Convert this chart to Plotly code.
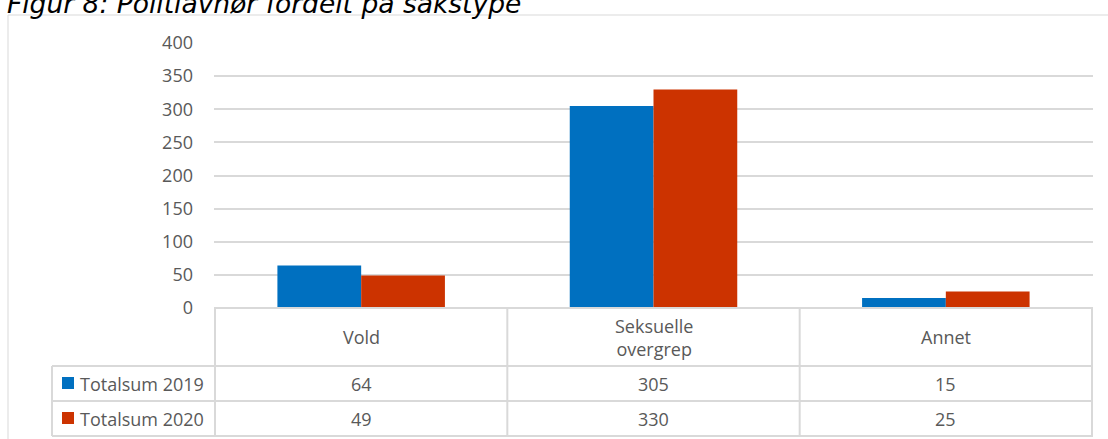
import plotly.graph_objects as go

categories = ["Vold", "Seksuelle overgrep", "Annet"]
header_labels = ["Vold", "Seksuelle<br>overgrep", "Annet"]
series_names = ["Totalsum 2019", "Totalsum 2020"]
values_2019 = [64, 305, 15]
values_2020 = [49, 330, 25]
series_values = [values_2019, values_2020]
colors = ["#0070C0", "#CC3300"]
y_ticks = [0, 50, 100, 150, 200, 250, 300, 350, 400]
title_text = "Figur 8: Politiavhør fordelt på sakstype"

W, H = 1108, 439
L, R, T, B = 214, 15, 43, 131
PW = W - L - R
PH = H - T - B


def px_x(px):
    return (px - L) / PW


def px_y(py):
    return (H - B - py) / PH


FONT = "Open Sans"
TXT = "#595959"
GRID = "#d9d9d9"
FS = 18

fig = go.Figure()
for name, vals, col in zip(series_names, series_values, colors):
    fig.add_trace(go.Bar(x=categories, y=vals, name=name, marker_color=col,
                         marker_line_width=0, showlegend=False))

shapes = []
annotations = []

# table geometry (pixels)
row_lines = [366, 401, 436]
label_left = 52
tbl_line = dict(color=GRID, width=2)
shapes.append(dict(type="line", xref="paper", yref="paper", x0=0, x1=1,
                   y0=0, y1=0, line=tbl_line))
for ry in row_lines:
    shapes.append(dict(type="line", xref="paper", yref="paper",
                       x0=px_x(label_left), x1=1, y0=px_y(ry), y1=px_y(ry),
                       line=tbl_line))
shapes.append(dict(type="line", xref="paper", yref="paper", x0=px_x(label_left),
                   x1=px_x(label_left), y0=px_y(row_lines[0]), y1=px_y(row_lines[-1]),
                   line=tbl_line))
for xv in [-0.5, 0.5, 1.5, 2.5]:
    shapes.append(dict(type="line", xref="x", yref="paper", x0=xv, x1=xv,
                       y0=0, y1=px_y(row_lines[-1]), line=tbl_line))

# outer chart border
shapes.append(dict(type="rect", xref="paper", yref="paper", x0=px_x(8), x1=px_x(1112),
                   y0=px_y(450), y1=px_y(15), line=dict(color=GRID, width=1),
                   fillcolor="rgba(0,0,0,0)", layer="below"))

for cat, lab in zip(categories, header_labels):
    annotations.append(dict(x=cat, xref="x", y=px_y(337), yref="paper", text=lab,
                            showarrow=False, xanchor="center", yanchor="middle",
                            font=dict(family=FONT, size=FS, color=TXT)))

row_centers = [383.5, 418.5]
for i, (name, vals, col) in enumerate(zip(series_names, series_values, colors)):
    cy = row_centers[i]
    shapes.append(dict(type="rect", xref="paper", yref="paper", x0=px_x(62), x1=px_x(74),
                       y0=px_y(cy + 5.5), y1=px_y(cy - 6.5), fillcolor=col, line_width=0))
    annotations.append(dict(x=px_x(78), xref="paper", y=px_y(cy), yref="paper", text=name,
                            showarrow=False, xanchor="left", yanchor="middle",
                            font=dict(family=FONT, size=FS, color=TXT)))
    for cat, v in zip(categories, vals):
        annotations.append(dict(x=cat, xref="x", y=px_y(cy), yref="paper", text=str(v),
                                showarrow=False, xanchor="center", yanchor="middle",
                                font=dict(family=FONT, size=FS, color=TXT)))

annotations.append(dict(x=px_x(5), xref="paper", y=px_y(3), yref="paper", text=title_text,
                        showarrow=False, xanchor="left", yanchor="middle",
                        font=dict(family="DejaVu Sans", size=26.5, color="#000000",
                                  style="italic")))

fig.update_layout(
    width=W, height=H, autosize=False,
    margin=dict(l=L, r=R, t=T, b=B, pad=0),
    paper_bgcolor="white", plot_bgcolor="white",
    barmode="group", bargap=0.427, bargroupgap=0,
    shapes=shapes, annotations=annotations,
    xaxis=dict(showticklabels=False, showgrid=False, zeroline=False, showline=False,
               ticks=""),
    yaxis=dict(range=[0, 400], tickvals=y_ticks, showgrid=True, gridcolor=GRID,
               gridwidth=1.5, zeroline=False, showline=False, ticks="",
               ticklabelstandoff=20,
               tickfont=dict(family=FONT, size=FS, color=TXT)),
)

fig.write_html("out.html", config={"displayModeBar": False},
               post_script="document.body.style.margin='0';document.body.style.padding='0';")
